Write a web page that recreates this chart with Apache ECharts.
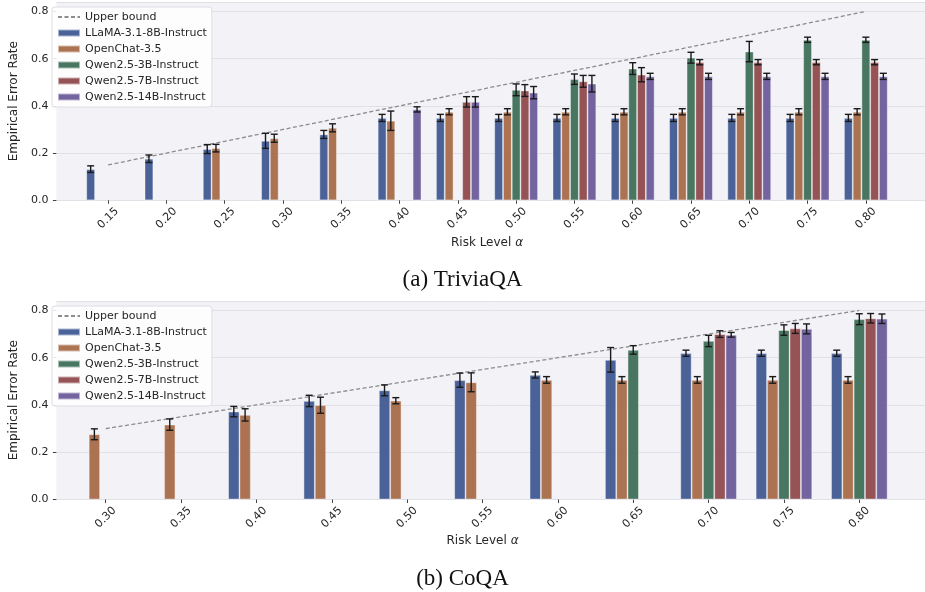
<!DOCTYPE html>
<html>
<head>
<meta charset="utf-8">
<script src="https://cdn.jsdelivr.net/npm/echarts@6/dist/echarts.min.js"></script>
<style>
  html, body { margin: 0; padding: 0; background: #ffffff; }
  #chart { width: 925px; height: 592px; }
</style>
</head>
<body>
<div id="chart"></div>
<script>
// ---- TriviaQA ----
const triviaAlpha = ['0.15', '0.20', '0.25', '0.30', '0.35', '0.40', '0.45', '0.50', '0.55', '0.60', '0.65', '0.70', '0.75', '0.80'];
const triviaBound = [0.15, 0.20, 0.25, 0.30, 0.35, 0.40, 0.45, 0.50, 0.55, 0.60, 0.65, 0.70, 0.75, 0.80];
const triviaLlama = [0.132, 0.176, 0.217, 0.252, 0.279, 0.349, 0.349, 0.349, 0.349, 0.349, 0.349, 0.349, 0.349, 0.349];
const triviaLlamaErr = [0.014, 0.016, 0.019, 0.032, 0.017, 0.015, 0.015, 0.015, 0.015, 0.015, 0.015, 0.015, 0.015, 0.015];
const triviaOpenChat = [null, null, 0.221, 0.263, 0.307, 0.337, 0.375, 0.375, 0.375, 0.375, 0.375, 0.375, 0.375, 0.375];
const triviaOpenChatErr = [null, null, 0.016, 0.017, 0.017, 0.041, 0.013, 0.013, 0.013, 0.013, 0.013, 0.013, 0.013, 0.013];
const triviaQwen3 = [null, null, null, null, null, null, null, 0.468, 0.513, 0.558, 0.604, 0.630, 0.680, 0.680];
const triviaQwen3Err = [null, null, null, null, null, null, null, 0.025, 0.022, 0.025, 0.023, 0.043, 0.011, 0.011];
const triviaQwen7 = [null, null, null, null, null, null, 0.417, 0.465, 0.504, 0.532, 0.585, 0.585, 0.585, 0.585];
const triviaQwen7Err = [null, null, null, null, null, null, 0.022, 0.025, 0.025, 0.030, 0.011, 0.011, 0.011, 0.011];
const triviaQwen14 = [null, null, null, null, null, 0.385, 0.417, 0.456, 0.494, 0.525, 0.525, 0.525, 0.525, 0.525];
const triviaQwen14Err = [null, null, null, null, null, 0.011, 0.022, 0.026, 0.035, 0.013, 0.013, 0.013, 0.013, 0.013];

// ---- CoQA ----
const coqaAlpha = ['0.30', '0.35', '0.40', '0.45', '0.50', '0.55', '0.60', '0.65', '0.70', '0.75', '0.80'];
const coqaBound = [0.30, 0.35, 0.40, 0.45, 0.50, 0.55, 0.60, 0.65, 0.70, 0.75, 0.80];
const coqaLlama = [null, null, 0.372, 0.417, 0.462, 0.505, 0.527, 0.591, 0.619, 0.619, 0.619];
const coqaLlamaErr = [null, null, 0.022, 0.024, 0.023, 0.030, 0.013, 0.052, 0.013, 0.013, 0.013];
const coqaOpenChat = [0.276, 0.317, 0.358, 0.399, 0.418, 0.496, 0.506, 0.506, 0.506, 0.506, 0.506];
const coqaOpenChatErr = [0.023, 0.024, 0.026, 0.034, 0.013, 0.040, 0.014, 0.014, 0.014, 0.014, 0.014];
const coqaQwen3 = [null, null, null, null, null, null, null, 0.633, 0.671, 0.717, 0.763];
const coqaQwen3Err = [null, null, null, null, null, null, null, 0.018, 0.024, 0.022, 0.023];
const coqaQwen7 = [null, null, null, null, null, null, null, null, 0.700, 0.724, 0.767];
const coqaQwen7Err = [null, null, null, null, null, null, null, null, 0.014, 0.021, 0.020];
const coqaQwen14 = [null, null, null, null, null, null, null, null, 0.697, 0.722, 0.765];
const coqaQwen14Err = [null, null, null, null, null, null, null, null, 0.010, 0.021, 0.020];

const modelNames = ['LLaMA-3.1-8B-Instruct', 'OpenChat-3.5', 'Qwen2.5-3B-Instruct', 'Qwen2.5-7B-Instruct', 'Qwen2.5-14B-Instruct'];
const modelColors = ['#415a93', '#a86c49', '#3f6f58', '#8f4a4d', '#6b5c9b'];
const boundName = 'Upper bound';

const FONT = 'DejaVu Sans';
const TEXT = '#262626';
const BAR_GROUP = 0.75;           // fraction of a category taken by the bar group
const BAR_SHARE = BAR_GROUP / 5;  // width of one bar as fraction of a category

const triviaSets = [
  [triviaLlama, triviaLlamaErr], [triviaOpenChat, triviaOpenChatErr], [triviaQwen3, triviaQwen3Err],
  [triviaQwen7, triviaQwen7Err], [triviaQwen14, triviaQwen14Err]
];
const coqaSets = [
  [coqaLlama, coqaLlamaErr], [coqaOpenChat, coqaOpenChatErr], [coqaQwen3, coqaQwen3Err],
  [coqaQwen7, coqaQwen7Err], [coqaQwen14, coqaQwen14Err]
];

// vertical error bar with caps, shifted to the k-th bar of the group
function errorBarRenderer(k) {
  return function (params, api) {
    const idx = api.value(0);
    const v = api.value(1);
    const e = api.value(2);
    const band = api.size([1, 0])[0];
    const dx = (k - 2) * BAR_SHARE * band;
    const hi = api.coord([idx, v + e]);
    const lo = api.coord([idx, v - e]);
    const x = hi[0] + dx;
    const cap = 3.5;
    const style = { stroke: '#1a1a1a', lineWidth: 1.4 };
    return {
      type: 'group',
      children: [
        { type: 'line', shape: { x1: x, y1: hi[1], x2: x, y2: lo[1] }, style: style },
        { type: 'line', shape: { x1: x - cap, y1: hi[1], x2: x + cap, y2: hi[1] }, style: style },
        { type: 'line', shape: { x1: x - cap, y1: lo[1], x2: x + cap, y2: lo[1] }, style: style }
      ]
    };
  };
}

function panelSeries(sets, bound, xIdx, yIdx) {
  const out = [];
  out.push({
    name: boundName, type: 'line', xAxisIndex: xIdx, yAxisIndex: yIdx,
    data: bound, symbol: 'circle', showSymbol: false, z: 4, color: '#8c8c8c',
    itemStyle: { color: '#8c8c8c' },
    lineStyle: { color: '#8c8c8c', width: 1.3, type: [4, 2.5] }
  });
  sets.forEach(function (s, k) {
    out.push({
      name: modelNames[k], type: 'bar', xAxisIndex: xIdx, yAxisIndex: yIdx,
      data: s[0], barGap: '0%', barCategoryGap: ((1 - BAR_GROUP) * 100) + '%', z: 2,
      itemStyle: { color: modelColors[k], opacity: 0.95, borderColor: 'rgba(255,255,255,0.55)', borderWidth: 0.8 }
    });
  });
  sets.forEach(function (s, k) {
    const pts = [];
    s[0].forEach(function (v, i) { if (v !== null) pts.push([i, v, s[1][i]]); });
    out.push({
      name: modelNames[k], type: 'custom', xAxisIndex: xIdx, yAxisIndex: yIdx,
      data: pts, encode: { x: 0, y: 1 }, z: 5, silent: true,
      renderItem: errorBarRenderer(k)
    });
  });
  return out;
}

function bgGrid(top, height) {
  return { left: 47, right: 0, top: top, height: height, show: true, backgroundColor: '#f2f2f7', borderWidth: 0 };
}
function catGrid(left, right, top, height) {
  return { left: left, right: right, top: top, height: height, show: false };
}

function valueAxisY(gridIndex, visible) {
  return {
    type: 'value', gridIndex: gridIndex, min: 0, max: 0.84, interval: 0.2, show: visible,
    name: visible ? 'Empirical Error Rate' : '', nameLocation: 'middle', nameGap: 31,
    nameTextStyle: { fontFamily: FONT, fontSize: 12, color: TEXT },
    axisLine: { show: false },
    axisTick: { show: visible, length: 3.5, lineStyle: { color: '#444' } },
    axisLabel: { show: visible, fontFamily: FONT, fontSize: 11, color: TEXT, margin: 8, showMaxLabel: false,
      formatter: function (v) { return v.toFixed(1); } },
    splitLine: { show: visible, lineStyle: { color: '#e0e0e7', width: 1 } }
  };
}

function hiddenX(gridIndex) {
  return { type: 'value', gridIndex: gridIndex, min: 0, max: 1, show: false };
}

function catX(gridIndex, labels, nameGap) {
  return {
    type: 'category', gridIndex: gridIndex, data: labels,
    name: 'Risk Level {i|α}', nameLocation: 'middle', nameGap: nameGap,
    nameTextStyle: { fontFamily: FONT, fontSize: 12, color: TEXT,
      rich: { i: { fontFamily: FONT, fontSize: 12, fontStyle: 'italic', color: TEXT } } },
    axisLine: { show: false },
    axisTick: { show: true, alignWithLabel: true, length: 3.5, lineStyle: { color: '#444' } },
    axisLabel: { fontFamily: FONT, fontSize: 11, color: TEXT, rotate: 45, margin: 18, interval: 0,
      align: 'center', verticalAlign: 'middle' }
  };
}

function legendFor(top) {
  return {
    orient: 'vertical', left: 52, top: top,
    backgroundColor: 'rgba(255,255,255,0.85)', borderColor: '#dedee3', borderWidth: 1, borderRadius: 3,
    padding: [3, 5, 3, 5], itemGap: 2, itemWidth: 22, itemHeight: 7,
    textStyle: { fontFamily: FONT, fontSize: 11, color: TEXT, lineHeight: 14 },
    data: [boundName].concat(modelNames).map(function (n, i) {
      return i === 0 ? { name: n, itemStyle: { opacity: 0 } } : { name: n, icon: 'rect' };
    })
  };
}

const chart = echarts.init(document.getElementById('chart'), null, { renderer: 'canvas' });

const option = {
  animation: false,
  backgroundColor: '#ffffff',
  grid: [
    bgGrid(2, 198.3),
    catGrid(79, 30, 2, 198.3),
    bgGrid(301, 198.5),
    catGrid(68, 28, 301, 198.5)
  ],
  xAxis: [hiddenX(0), catX(1, triviaAlpha, 37), hiddenX(2), catX(3, coqaAlpha, 35)],
  yAxis: [valueAxisY(0, true), valueAxisY(1, false), valueAxisY(2, true), valueAxisY(3, false)],
  legend: [legendFor(7), legendFor(306)],
  series: [].concat(
    panelSeries(triviaSets, triviaBound, 1, 1),
    panelSeries(coqaSets, coqaBound, 3, 3)
  ),
  graphic: [
    { type: 'text', left: 'center', top: 268, style: { text: '(a) TriviaQA', font: '23px "Liberation Serif"', fill: '#111' } },
    { type: 'text', left: 'center', top: 567, style: { text: '(b) CoQA', font: '23px "Liberation Serif"', fill: '#111' } }
  ]
};

chart.setOption(option);
</script>
</body>
</html>
